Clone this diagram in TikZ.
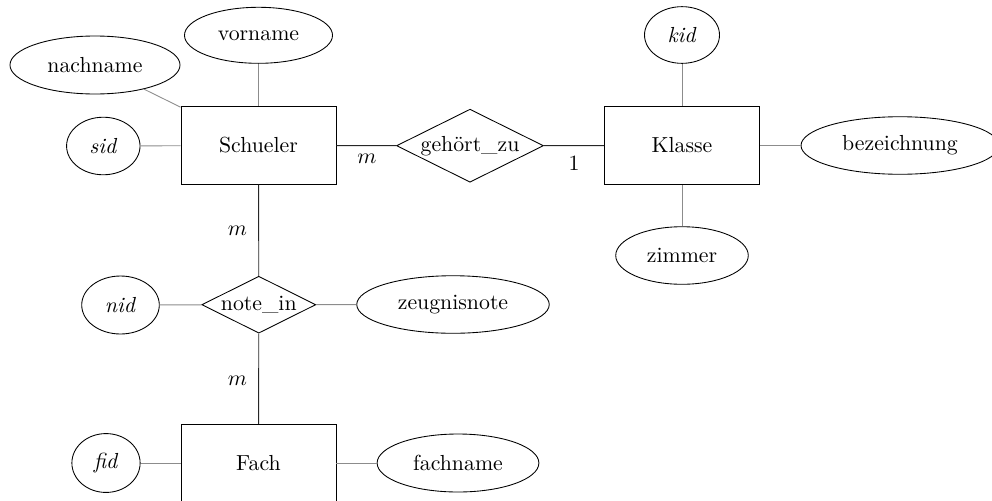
\documentclass[tikz,border=0pt]{standalone}
\usetikzlibrary{shapes.geometric}
\begin{document}
\begin{tikzpicture}[x=0.4587pt,y=-0.4587pt,
  entity/.style={draw,rectangle,minimum width=71.1pt,minimum height=35.4pt,inner sep=0pt},
  attr/.style={draw,ellipse,inner sep=0pt,minimum height=26.4pt},
  rel/.style={draw,diamond,inner sep=0pt,aspect=2},
  attrline/.style={draw=black!45},
  relline/.style={draw=black!85},
  card/.style={inner sep=0pt}]
\useasboundingbox (0,0) rectangle (992,500);
% entities
\node[entity] (schueler) at (258.5,145.5) {Schueler};
\node[entity] (klasse) at (682,145.5) {Klasse};
\node[entity] (fach) at (258.5,463) {Fach};
% relationships
\node[rel,minimum width=67.4pt,minimum height=33.5pt] (gehoert) at (470,145.7) {gehört\_zu};
\node[rel,minimum width=52.3pt,minimum height=26.1pt] (notein) at (258.8,304.7) {note\_in};
% attributes
\node[attr,minimum width=67.9pt,minimum height=25.7pt] (vorname) at (258.5,35.3) {vorname};
\node[attr,minimum width=78pt,minimum height=26.6pt] (nachname) at (95,65) {nachname};
\node[attr,minimum width=33.7pt] (sid) at (103.3,146) {\textit{sid}};
\node[attr,minimum width=34.4pt,minimum height=26pt] (kid) at (682,35) {\textit{kid}};
\node[attr,minimum width=90.8pt] (bez) at (900,145.5) {bezeichnung};
\node[attr,minimum width=60.8pt] (zimmer) at (682,255.5) {zimmer};
\node[attr,minimum width=35.6pt,minimum height=26.6pt] (nid) at (120.5,305) {\textit{nid}};
\node[attr,minimum width=88.3pt] (zeugnis) at (453,304.5) {zeugnisnote};
\node[attr,minimum width=31.3pt,minimum height=27pt] (fid) at (106,463) {\textit{fid}};
\node[attr,minimum width=74.2pt,minimum height=26.6pt] (fachname) at (458,463) {fachname};
% attribute lines
\draw[attrline] (nachname) -- (schueler);
\draw[attrline] (vorname) -- (schueler);
\draw[attrline] (sid) -- (schueler);
\draw[attrline] (kid) -- (klasse);
\draw[attrline] (bez) -- (klasse);
\draw[attrline] (zimmer) -- (klasse);
\draw[attrline] (nid) -- (notein);
\draw[attrline] (zeugnis) -- (notein);
\draw[attrline] (fid) -- (fach);
\draw[attrline] (fachname) -- (fach);
% relationship lines
\draw[relline] (schueler) -- (gehoert);
\draw[relline] (gehoert) -- (klasse);
\draw[relline] (schueler) -- (notein);
\draw[relline] (notein) -- (fach);
% cardinalities
\node[card] (c1) at (367,158.5) {$m$};
\node[card] (c2) at (574,163) {1};
\node[card] (c3) at (237.5,231) {$m$};
\node[card] (c4) at (237.5,380.5) {$m$};
\end{tikzpicture}
\end{document}
